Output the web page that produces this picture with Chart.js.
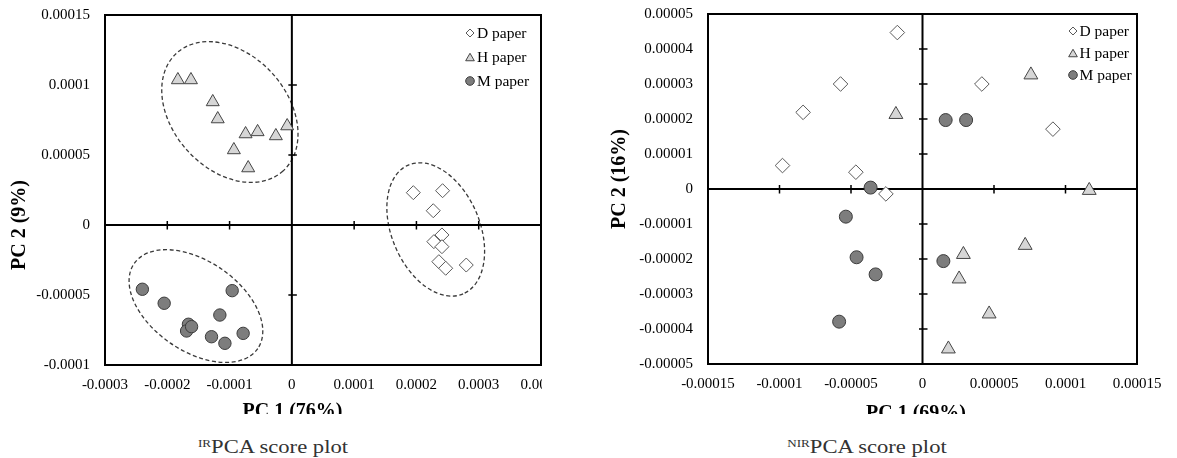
<!DOCTYPE html>
<html><head><meta charset="utf-8">
<script src="https://cdn.jsdelivr.net/npm/chart.js@4/dist/chart.umd.min.js"></script>
<style>
html,body{margin:0;padding:0;background:#fff;width:1177px;height:458px;overflow:hidden;}
.box{position:absolute;top:0;overflow:hidden;}
.box canvas{position:absolute;left:0;top:0;}
.ttl{position:absolute;font-weight:bold;font-size:20px;font-family:"Liberation Serif","Times New Roman",serif;white-space:nowrap;line-height:20px;color:#000;}
.cap{position:absolute;top:437px;font-size:19px;font-family:"Liberation Serif","Times New Roman",serif;line-height:19px;white-space:nowrap;color:#333;transform:translateX(-50%) scaleX(1.19);}
.cap sup{font-size:11px;vertical-align:baseline;position:relative;top:-6px;}
</style></head><body>
<div class="box" style="left:0;width:542px;height:414px">
  <canvas id="cL" width="581" height="400"></canvas>
  <div class="ttl" style="left:292.5px;top:399.5px;transform:translateX(-50%)">PC 1 (76%)</div>
  <div class="ttl" style="left:17.5px;top:225px;transform:translate(-50%,-50%) rotate(-90deg)">PC 2 (9%)</div>
</div>
<div class="box" style="left:600px;width:577px;height:414px">
  <canvas id="cR" width="577" height="400"></canvas>
  <div class="ttl" style="left:316px;top:401.5px;transform:translateX(-50%)">PC 1 (69%)</div>
  <div class="ttl" style="left:18px;top:179px;transform:translate(-50%,-50%) rotate(-90deg)">PC 2 (16%)</div>
</div>
<div class="cap" style="left:272.5px"><sup>IR</sup>PCA score plot</div>
<div class="cap" style="left:867px"><sup>NIR</sup>PCA score plot</div>
<script>
// ---------- data ----------
const seriesNames = ["D paper", "H paper", "M paper"];

// IR PCA
const irXTicks = [-0.0003, -0.0002, -0.0001, 0, 0.0001, 0.0002, 0.0003, 0.0004];
const irXLabels = ["-0.0003", "-0.0002", "-0.0001", "0", "0.0001", "0.0002", "0.0003", "0.0004"];
const irYTicks = [-0.0001, -0.00005, 0, 0.00005, 0.0001, 0.00015];
const irYLabels = ["-0.0001", "-0.00005", "0", "0.00005", "0.0001", "0.00015"];

const irDx = [0.000195, 0.000242, 0.000227, 0.000241, 0.000228, 0.000241, 0.000236, 0.000247, 0.000280];
const irDy = [0.0000231, 0.0000245, 0.0000102, -0.0000071, -0.0000119, -0.0000155, -0.0000262, -0.0000309, -0.0000286];
const irHx = [-0.000183, -0.000162, -0.000127, -0.000119, -0.0000743, -0.000055, -0.0000257, -0.0000075, -0.0000931, -0.0000701];
const irHy = [0.0001036, 0.0001036, 0.0000879, 0.0000757, 0.000065, 0.0000665, 0.0000636, 0.0000707, 0.0000536, 0.0000407];
const irMx = [-0.000240, -0.000205, -0.000166, -0.000169, -0.000161, -0.000129, -0.0001075, -0.0001156, -0.0000958, -0.0000782];
const irMy = [-0.0000459, -0.0000559, -0.0000709, -0.0000757, -0.0000726, -0.0000798, -0.0000845, -0.0000643, -0.0000469, -0.0000774];

// NIR PCA
const nirXTicks = [-0.00015, -0.0001, -0.00005, 0, 0.00005, 0.0001, 0.00015];
const nirXLabels = ["-0.00015", "-0.0001", "-0.00005", "0", "0.00005", "0.0001", "0.00015"];
const nirYTicks = [-0.00005, -0.00004, -0.00003, -0.00002, -0.00001, 0, 0.00001, 0.00002, 0.00003, 0.00004, 0.00005];
const nirYLabels = ["-0.00005", "-0.00004", "-0.00003", "-0.00002", "-0.00001", "0", "0.00001", "0.00002", "0.00003", "0.00004", "0.00005"];

const nirDx = [-0.0000176, -0.0000573, -0.0000835, -0.0000979, -0.0000466, -0.0000256, 0.0000415, 0.0000912];
const nirDy = [0.0000447, 0.00003, 0.0000219, 0.0000067, 0.0000048, -0.0000014, 0.00003, 0.0000171];
const nirHx = [0.0000758, -0.0000186, 0.0001166, 0.0000286, 0.0000256, 0.0000718, 0.0000466, 0.0000181];
const nirHy = [0.0000326, 0.0000213, -0.0000004, -0.0000187, -0.0000257, -0.0000161, -0.0000357, -0.0000457];
const nirMx = [0.0000162, 0.0000305, -0.0000363, -0.0000536, -0.0000461, -0.0000328, -0.0000583, 0.0000146];
const nirMy = [0.0000197, 0.0000197, 0.0000004, -0.0000079, -0.0000195, -0.0000244, -0.0000379, -0.0000206];

// cluster ellipses on the IR plot (centre in data units)
const irClusterCentres = [[-0.0000995, 0.0000807], [-0.000154, -0.0000579], [0.000231, -0.0000032]];

// ---------- helpers ----------
const FAMILY = '"Liberation Serif", "Times New Roman", serif';
const pts = (xs, ys) => xs.map((v, i) => ({x: v, y: ys[i]}));
const STY = {
  D: {pointStyle: 'rectRot', backgroundColor: '#ffffff', borderColor: '#5a5a5a'},
  H: {pointStyle: 'triangle', backgroundColor: '#d6d6d6', borderColor: '#454545'},
  M: {pointStyle: 'circle', backgroundColor: '#7d7d7d', borderColor: '#3c3c3c'}
};

function scale(ticksArr, labels, axis, size, gap) {
  const isX = axis === 'x';
  return {
    type: 'linear', min: ticksArr[0], max: ticksArr[ticksArr.length - 1],
    grid: {display: true, drawOnChartArea: false, drawTicks: true, tickLength: gap, color: 'rgba(0,0,0,0)'},
    border: {display: false},
    afterBuildTicks: s => { s.ticks = ticksArr.map(v => ({value: v})); },
    afterFit: s => { if (isX) s.height = size; else s.width = size; },
    ticks: {autoSkip: false, maxRotation: 0, minRotation: 0, padding: 0, color: '#000',
      font: {family: FAMILY, size: 15},
      callback: (v, i) => labels[i]}
  };
}

function marker(ctx, style, x, y, r, fill, stroke) {
  ctx.beginPath();
  if (style === 'circle') ctx.arc(x, y, r, 0, Math.PI * 2);
  else if (style === 'rectRot') { ctx.moveTo(x, y - r); ctx.lineTo(x + r, y); ctx.lineTo(x, y + r); ctx.lineTo(x - r, y); ctx.closePath(); }
  else { const yy = y + r * 0.25; ctx.moveTo(x, yy - r); ctx.lineTo(x + r * 0.866, yy + r * 0.5); ctx.lineTo(x - r * 0.866, yy + r * 0.5); ctx.closePath(); }
  ctx.fillStyle = fill; ctx.fill();
  ctx.lineWidth = 1; ctx.strokeStyle = stroke; ctx.stroke();
}

function decor(cfg) {
  return {
    id: 'decor',
    beforeDatasetsDraw(chart) {
      const {ctx, chartArea: a, scales: {x, y}} = chart;
      const x0 = x.getPixelForValue(0), y0 = y.getPixelForValue(0);
      ctx.save();
      ctx.strokeStyle = '#3a3a3a'; ctx.lineWidth = 1.3; ctx.setLineDash([4, 2.6]);
      (cfg.ellipses || []).forEach(e => {
        ctx.beginPath();
        ctx.ellipse(x.getPixelForValue(e.c[0]), y.getPixelForValue(e.c[1]), e.a, e.b, e.rot * Math.PI / 180, 0, Math.PI * 2);
        ctx.stroke();
      });
      ctx.setLineDash([]);
      ctx.strokeStyle = '#000'; ctx.lineWidth = 2;
      ctx.beginPath();
      ctx.moveTo(a.left, y0); ctx.lineTo(a.right, y0);
      ctx.moveTo(x0, a.top); ctx.lineTo(x0, a.bottom);
      ctx.stroke();
      ctx.lineWidth = 1.5; ctx.beginPath();
      cfg.xTicks.forEach(v => {
        if (v === 0 || v === x.min || v === x.max) return;
        const p = x.getPixelForValue(v); ctx.moveTo(p, y0 - 4); ctx.lineTo(p, y0 + 4.5);
      });
      cfg.yTicks.forEach(v => {
        if (v === 0 || v === y.min || v === y.max) return;
        const p = y.getPixelForValue(v); ctx.moveTo(x0 - 3.5, p); ctx.lineTo(x0 + 5, p);
      });
      ctx.stroke();
      ctx.restore();
    },
    afterDatasetsDraw(chart) {
      const {ctx, chartArea: a} = chart;
      ctx.save();
      ctx.strokeStyle = '#000'; ctx.lineWidth = 2;
      ctx.strokeRect(a.left, a.top, a.right - a.left, a.bottom - a.top);
      const L = cfg.legend;
      ctx.font = '15.5px ' + FAMILY; ctx.textBaseline = 'middle'; ctx.textAlign = 'left';
      chart.data.datasets.forEach((ds, i) => {
        const yy = a.top + L.top + i * L.gap;
        const r = ds.pointStyle === 'circle' ? 4.3 : (ds.pointStyle === 'triangle' ? 5 : 4);
        marker(ctx, ds.pointStyle, a.right - L.mark, yy, r, ds.backgroundColor, ds.borderColor);
        ctx.fillStyle = '#000';
        ctx.fillText(ds.label, a.right - L.text, yy + 1);
      });
      ctx.restore();
    }
  };
}

function makeChart(id, sets, rads, xT, xL, yT, yL, layout, dec) {
  return new Chart(document.getElementById(id), {
    type: 'scatter',
    data: {
      datasets: sets.map((s, i) => Object.assign({
        label: seriesNames[i], data: s, borderWidth: 1, pointRadius: rads[i], pointHoverRadius: rads[i]
      }, STY[['D', 'H', 'M'][i]]))
    },
    options: {
      responsive: false, animation: false, devicePixelRatio: 1,
      layout: {padding: layout.padding},
      plugins: {legend: {display: false}, tooltip: {enabled: false}},
      scales: {
        x: Object.assign(scale(xT, xL, 'x', layout.xh, 11), {position: 'bottom'}),
        y: Object.assign(scale(yT, yL, 'y', layout.yw, 15), {position: 'left'})
      }
    },
    plugins: [decor(dec)]
  });
}

makeChart('cL',
  [pts(irDx, irDy), pts(irHx, irHy), pts(irMx, irMy)], [7, 7.5, 6.2],
  irXTicks, irXLabels, irYTicks, irYLabels,
  {padding: {left: 0, top: 15, right: 40, bottom: 0}, xh: 35, yw: 105},
  {xTicks: irXTicks, yTicks: irYTicks,
   ellipses: [
     {c: irClusterCentres[0], a: 79.4, b: 57.4, rot: 48},
     {c: irClusterCentres[1], a: 75, b: 45, rot: 34.5},
     {c: irClusterCentres[2], a: 70, b: 44, rot: 67}],
   legend: {mark: 71, text: 64, top: 18, gap: 24}});

makeChart('cR',
  [pts(nirDx, nirDy), pts(nirHx, nirHy), pts(nirMx, nirMy)], [7.3, 8, 6.5],
  nirXTicks, nirXLabels, nirYTicks, nirYLabels,
  {padding: {left: 0, top: 14, right: 40, bottom: 0}, xh: 36, yw: 108},
  {xTicks: nirXTicks, yTicks: nirYTicks, ellipses: [],
   legend: {mark: 64, text: 57.5, top: 17, gap: 22}});
</script>
</body></html>
